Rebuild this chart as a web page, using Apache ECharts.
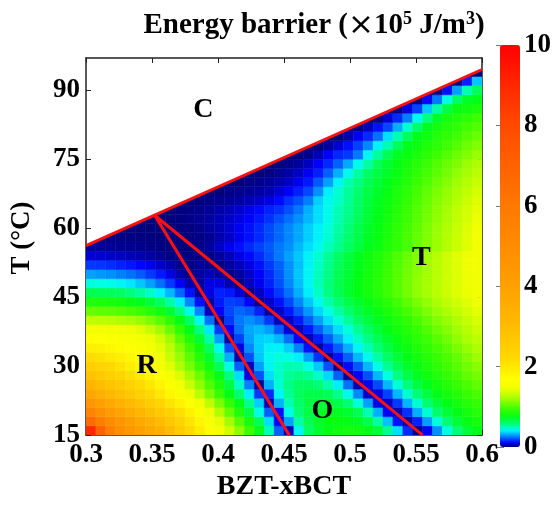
<!DOCTYPE html>
<html lang="en">
<head>
  <meta charset="UTF-8">
  <title>Energy barrier</title>
  <script src="https://cdn.jsdelivr.net/npm/echarts@6/dist/echarts.min.js"></script>
</head>
<body style="margin:0">
<div id="chart" style="width:556px;height:506px"></div>

<script>
  const _ = null;
  // cell centres: composition x of BZT-xBCT and temperature T (deg C)
  const xCenters = [0.30375, 0.31125, 0.31875, 0.32625, 0.33375, 0.34125, 0.34875, 0.35625, 0.36375, 0.37125,
                    0.37875, 0.38625, 0.39375, 0.40125, 0.40875, 0.41625, 0.42375, 0.43125, 0.43875, 0.44625,
                    0.45375, 0.46125, 0.46875, 0.47625, 0.48375, 0.49125, 0.49875, 0.50625, 0.51375, 0.52125,
                    0.52875, 0.53625, 0.54375, 0.55125, 0.55875, 0.56625, 0.57375, 0.58125, 0.58875, 0.59625];
  const tCenters = [16, 18, 20, 22, 24, 26, 28, 30, 32, 34, 36, 38, 40, 42, 44, 46, 48, 50, 52, 54,
                    56, 58, 60, 62, 64, 66, 68, 70, 72, 74, 76, 78, 80, 82, 84, 86, 88, 90, 92, 94];

  // energy barrier (x10^5 J/m3), one row per temperature, bottom row first; null = cubic phase
  const barrier = [
    [9.0, 7.0, 5.6, 4.9, 4.4, 4.0, 3.7, 3.45, 3.0, 2.55, 2.17, 1.95, 1.75, 1.55, 1.35, 1.15, 0.95, 0.77, 0.5, 0.22, 0.05, 0.42, 0.6, 0.7, 0.76, 0.8, 0.81, 0.8, 0.76, 0.68, 0.55, 0.38, 0.15, 0.01, 0.1, 0.28, 0.45, 0.58, 0.68, 0.75],
    [6.6, 5.7, 5.0, 4.5, 4.05, 3.7, 3.4, 3.05, 2.7, 2.35, 2.05, 1.83, 1.62, 1.42, 1.22, 1.02, 0.83, 0.62, 0.38, 0.1, 0.3, 0.52, 0.64, 0.71, 0.76, 0.77, 0.76, 0.72, 0.64, 0.52, 0.34, 0.12, 0.03, 0.14, 0.3, 0.46, 0.58, 0.68, 0.76, 0.82],
    [5.4, 4.8, 4.3, 3.9, 3.55, 3.2, 2.9, 2.6, 2.35, 2.1, 1.85, 1.65, 1.45, 1.25, 1.05, 0.85, 0.66, 0.45, 0.22, 0.12, 0.44, 0.58, 0.66, 0.71, 0.74, 0.73, 0.7, 0.63, 0.5, 0.32, 0.1, 0.05, 0.16, 0.32, 0.47, 0.59, 0.68, 0.75, 0.82, 0.87],
    [4.5, 4.05, 3.7, 3.4, 3.1, 2.8, 2.55, 2.3, 2.05, 1.85, 1.65, 1.47, 1.3, 1.1, 0.92, 0.74, 0.55, 0.36, 0.05, 0.32, 0.5, 0.6, 0.66, 0.69, 0.69, 0.65, 0.58, 0.46, 0.3, 0.08, 0.06, 0.17, 0.33, 0.47, 0.59, 0.68, 0.75, 0.81, 0.87, 0.92],
    [3.8, 3.45, 3.15, 2.9, 2.65, 2.42, 2.2, 2.0, 1.8, 1.62, 1.45, 1.28, 1.1, 0.93, 0.76, 0.58, 0.4, 0.17, 0.15, 0.42, 0.54, 0.61, 0.65, 0.65, 0.62, 0.55, 0.43, 0.27, 0.06, 0.08, 0.18, 0.33, 0.47, 0.58, 0.67, 0.75, 0.82, 0.87, 0.93, 0.98],
    [3.25, 3.0, 2.78, 2.57, 2.37, 2.18, 2.0, 1.82, 1.65, 1.5, 1.33, 1.16, 1.0, 0.84, 0.67, 0.48, 0.26, 0.02, 0.32, 0.47, 0.56, 0.6, 0.61, 0.58, 0.51, 0.4, 0.24, 0.04, 0.09, 0.19, 0.33, 0.46, 0.57, 0.66, 0.74, 0.81, 0.87, 0.93, 0.98, 1.04],
    [2.8, 2.63, 2.47, 2.3, 2.13, 1.97, 1.82, 1.67, 1.53, 1.38, 1.22, 1.07, 0.9, 0.74, 0.57, 0.38, 0.08, 0.2, 0.38, 0.48, 0.54, 0.56, 0.54, 0.48, 0.37, 0.22, 0.02, 0.1, 0.2, 0.33, 0.45, 0.56, 0.65, 0.73, 0.8, 0.86, 0.92, 0.98, 1.04, 1.09],
    [2.45, 2.33, 2.2, 2.06, 1.93, 1.8, 1.67, 1.54, 1.4, 1.25, 1.1, 0.95, 0.8, 0.62, 0.45, 0.22, 0.05, 0.3, 0.42, 0.48, 0.51, 0.5, 0.45, 0.35, 0.2, 0.01, 0.11, 0.21, 0.33, 0.44, 0.54, 0.63, 0.71, 0.78, 0.84, 0.9, 0.96, 1.02, 1.08, 1.14],
    [2.15, 2.08, 1.99, 1.9, 1.8, 1.7, 1.59, 1.47, 1.33, 1.18, 1.03, 0.87, 0.7, 0.52, 0.32, 0.04, 0.2, 0.35, 0.43, 0.46, 0.45, 0.4, 0.3, 0.16, 0.02, 0.12, 0.22, 0.33, 0.43, 0.52, 0.6, 0.68, 0.75, 0.81, 0.87, 0.93, 0.99, 1.05, 1.12, 1.19],
    [1.9, 1.86, 1.8, 1.74, 1.67, 1.6, 1.52, 1.42, 1.28, 1.12, 0.96, 0.8, 0.62, 0.43, 0.2, 0.08, 0.27, 0.36, 0.41, 0.41, 0.36, 0.26, 0.12, 0.03, 0.13, 0.22, 0.32, 0.42, 0.5, 0.58, 0.66, 0.73, 0.79, 0.85, 0.91, 0.97, 1.03, 1.1, 1.17, 1.24],
    [1.7, 1.68, 1.65, 1.61, 1.57, 1.52, 1.45, 1.35, 1.2, 1.03, 0.86, 0.69, 0.51, 0.3, 0.03, 0.18, 0.3, 0.36, 0.37, 0.33, 0.24, 0.1, 0.04, 0.13, 0.22, 0.31, 0.4, 0.48, 0.56, 0.63, 0.7, 0.77, 0.83, 0.89, 0.95, 1.02, 1.09, 1.16, 1.23, 1.29],
    [1.52, 1.51, 1.5, 1.48, 1.45, 1.4, 1.32, 1.2, 1.06, 0.9, 0.74, 0.57, 0.39, 0.17, 0.1, 0.24, 0.31, 0.33, 0.3, 0.21, 0.07, 0.05, 0.13, 0.22, 0.3, 0.38, 0.46, 0.54, 0.61, 0.68, 0.75, 0.81, 0.87, 0.93, 1.0, 1.07, 1.13, 1.2, 1.27, 1.33],
    [1.3, 1.29, 1.28, 1.26, 1.23, 1.18, 1.11, 1.02, 0.9, 0.76, 0.6, 0.44, 0.24, 0.01, 0.17, 0.25, 0.28, 0.25, 0.17, 0.05, 0.06, 0.13, 0.22, 0.3, 0.38, 0.46, 0.53, 0.6, 0.67, 0.73, 0.79, 0.85, 0.91, 0.98, 1.05, 1.12, 1.18, 1.25, 1.31, 1.37],
    [1.05, 1.04, 1.03, 1.01, 0.98, 0.94, 0.88, 0.8, 0.7, 0.57, 0.43, 0.27, 0.05, 0.1, 0.19, 0.23, 0.21, 0.14, 0.03, 0.06, 0.13, 0.21, 0.29, 0.37, 0.45, 0.52, 0.59, 0.66, 0.72, 0.78, 0.84, 0.9, 0.97, 1.04, 1.11, 1.18, 1.24, 1.3, 1.36, 1.41],
    [0.85, 0.84, 0.83, 0.81, 0.78, 0.74, 0.68, 0.61, 0.52, 0.4, 0.27, 0.12, 0.03, 0.13, 0.18, 0.17, 0.1, 0.01, 0.06, 0.12, 0.19, 0.27, 0.35, 0.43, 0.51, 0.58, 0.65, 0.71, 0.77, 0.83, 0.89, 0.96, 1.03, 1.1, 1.17, 1.23, 1.29, 1.35, 1.4, 1.44],
    [0.64, 0.63, 0.62, 0.6, 0.57, 0.53, 0.48, 0.41, 0.33, 0.23, 0.12, 0.02, 0.08, 0.14, 0.13, 0.07, 0.01, 0.06, 0.11, 0.17, 0.24, 0.32, 0.4, 0.48, 0.56, 0.63, 0.7, 0.76, 0.82, 0.88, 0.95, 1.02, 1.09, 1.16, 1.22, 1.28, 1.34, 1.39, 1.43, 1.46],
    [0.46, 0.45, 0.44, 0.42, 0.39, 0.35, 0.3, 0.24, 0.17, 0.1, 0.04, 0.03, 0.08, 0.08, 0.04, 0.01, 0.05, 0.09, 0.14, 0.2, 0.27, 0.34, 0.42, 0.5, 0.57, 0.64, 0.7, 0.76, 0.82, 0.88, 0.95, 1.02, 1.09, 1.16, 1.22, 1.28, 1.34, 1.39, 1.44, 1.48],
    [0.3, 0.29, 0.28, 0.26, 0.24, 0.21, 0.17, 0.13, 0.08, 0.04, 0.01, 0.03, 0.05, 0.03, 0.01, 0.03, 0.06, 0.1, 0.15, 0.21, 0.28, 0.35, 0.42, 0.49, 0.56, 0.63, 0.69, 0.75, 0.81, 0.87, 0.94, 1.01, 1.08, 1.15, 1.22, 1.28, 1.34, 1.39, 1.44, 1.49],
    [0.17, 0.165, 0.155, 0.14, 0.125, 0.105, 0.085, 0.06, 0.04, 0.015, 0.01, 0.025, 0.015, 0.01, 0.03, 0.05, 0.08, 0.12, 0.17, 0.22, 0.28, 0.34, 0.41, 0.48, 0.55, 0.62, 0.68, 0.74, 0.8, 0.86, 0.93, 1.0, 1.07, 1.14, 1.21, 1.28, 1.34, 1.39, 1.45, 1.5],
    [0.07, 0.068, 0.063, 0.057, 0.05, 0.042, 0.033, 0.022, 0.01, 0.005, 0.01, 0.008, 0.01, 0.03, 0.05, 0.08, 0.11, 0.15, 0.2, 0.25, 0.3, 0.35, 0.41, 0.47, 0.54, 0.6, 0.67, 0.73, 0.79, 0.85, 0.92, 0.99, 1.06, 1.13, 1.2, 1.27, 1.34, 1.4, 1.45, 1.5],
    [0.025, 0.025, 0.024, 0.022, 0.02, 0.017, 0.013, 0.009, 0.004, 0.004, 0.004, 0.01, 0.03, 0.06, 0.09, 0.12, 0.15, 0.18, 0.21, 0.25, 0.28, 0.33, 0.38, 0.43, 0.49, 0.55, 0.61, 0.67, 0.73, 0.79, 0.85, 0.91, 0.98, 1.05, 1.12, 1.19, 1.26, 1.33, 1.4, 1.48],
    [0.008, 0.01, 0.01, 0.01, 0.009, 0.007, 0.005, 0.003, 0.002, 0.002, 0.005, 0.01, 0.02, 0.04, 0.06, 0.09, 0.12, 0.15, 0.19, 0.23, 0.27, 0.31, 0.36, 0.41, 0.47, 0.53, 0.59, 0.65, 0.72, 0.78, 0.84, 0.91, 0.98, 1.05, 1.12, 1.19, 1.26, 1.33, 1.4, 1.47],
    [_, _, 0.003, 0.004, 0.004, 0.003, 0.002, 0.001, 0.001, 0.003, 0.008, 0.015, 0.03, 0.045, 0.065, 0.09, 0.12, 0.15, 0.19, 0.23, 0.27, 0.31, 0.36, 0.41, 0.46, 0.52, 0.58, 0.64, 0.71, 0.77, 0.83, 0.9, 0.97, 1.04, 1.11, 1.18, 1.25, 1.32, 1.39, 1.46],
    [_, _, _, _, _, 0.001, 0.001, 0.001, 0.003, 0.006, 0.012, 0.02, 0.03, 0.045, 0.06, 0.08, 0.1, 0.13, 0.16, 0.2, 0.24, 0.28, 0.33, 0.38, 0.44, 0.5, 0.56, 0.62, 0.69, 0.75, 0.81, 0.88, 0.95, 1.02, 1.09, 1.16, 1.23, 1.3, 1.37, 1.44],
    [_, _, _, _, _, _, _, 0.0, 0.002, 0.005, 0.01, 0.016, 0.025, 0.035, 0.05, 0.065, 0.085, 0.11, 0.14, 0.16, 0.2, 0.25, 0.32, 0.38, 0.44, 0.5, 0.55, 0.61, 0.68, 0.74, 0.8, 0.87, 0.94, 1.01, 1.08, 1.15, 1.22, 1.29, 1.36, 1.42],
    [_, _, _, _, _, _, _, _, _, 0.0, 0.002, 0.005, 0.01, 0.016, 0.024, 0.034, 0.046, 0.06, 0.08, 0.11, 0.16, 0.2, 0.26, 0.36, 0.43, 0.48, 0.54, 0.6, 0.67, 0.73, 0.79, 0.85, 0.92, 0.99, 1.06, 1.13, 1.19, 1.26, 1.33, 1.39],
    [_, _, _, _, _, _, _, _, _, _, _, 0.0, 0.001, 0.004, 0.009, 0.015, 0.022, 0.032, 0.045, 0.07, 0.1, 0.14, 0.19, 0.28, 0.4, 0.47, 0.53, 0.59, 0.655, 0.71, 0.77, 0.84, 0.9, 0.97, 1.04, 1.1, 1.17, 1.23, 1.3, 1.36],
    [_, _, _, _, _, _, _, _, _, _, _, _, _, 0.0, 0.001, 0.004, 0.009, 0.016, 0.025, 0.04, 0.06, 0.09, 0.13, 0.21, 0.3, 0.42, 0.51, 0.57, 0.63, 0.69, 0.745, 0.81, 0.87, 0.94, 1.0, 1.07, 1.13, 1.2, 1.26, 1.32],
    [_, _, _, _, _, _, _, _, _, _, _, _, _, _, _, 0.0, 0.001, 0.003, 0.008, 0.02, 0.035, 0.06, 0.09, 0.14, 0.22, 0.32, 0.43, 0.52, 0.6, 0.66, 0.72, 0.78, 0.845, 0.91, 0.97, 1.03, 1.09, 1.16, 1.22, 1.28],
    [_, _, _, _, _, _, _, _, _, _, _, _, _, _, _, _, _, 0.0, 0.0, 0.005, 0.015, 0.03, 0.055, 0.1, 0.15, 0.22, 0.31, 0.43, 0.52, 0.63, 0.7, 0.76, 0.82, 0.88, 0.94, 1.0, 1.06, 1.12, 1.18, 1.24],
    [_, _, _, _, _, _, _, _, _, _, _, _, _, _, _, _, _, _, _, 0.0, 0.0, 0.005, 0.02, 0.05, 0.1, 0.15, 0.17, 0.25, 0.42, 0.53, 0.63, 0.72, 0.78, 0.84, 0.89, 0.95, 1.01, 1.07, 1.12, 1.18],
    [_, _, _, _, _, _, _, _, _, _, _, _, _, _, _, _, _, _, _, _, _, 0.0, 0.0, 0.005, 0.03, 0.07, 0.12, 0.18, 0.27, 0.41, 0.51, 0.62, 0.73, 0.79, 0.85, 0.9, 0.96, 1.01, 1.07, 1.12],
    [_, _, _, _, _, _, _, _, _, _, _, _, _, _, _, _, _, _, _, _, _, _, _, 0.0, 0.0, 0.005, 0.04, 0.09, 0.15, 0.24, 0.38, 0.5, 0.62, 0.74, 0.8, 0.86, 0.91, 0.96, 1.01, 1.06],
    [_, _, _, _, _, _, _, _, _, _, _, _, _, _, _, _, _, _, _, _, _, _, _, _, _, 0.0, 0.0, 0.01, 0.05, 0.12, 0.19, 0.32, 0.47, 0.6, 0.74, 0.81, 0.86, 0.91, 0.96, 1.0],
    [_, _, _, _, _, _, _, _, _, _, _, _, _, _, _, _, _, _, _, _, _, _, _, _, _, _, _, 0.0, 0.0, 0.01, 0.07, 0.15, 0.26, 0.43, 0.57, 0.71, 0.82, 0.86, 0.9, 0.95],
    [_, _, _, _, _, _, _, _, _, _, _, _, _, _, _, _, _, _, _, _, _, _, _, _, _, _, _, _, _, _, 0.0, 0.01, 0.08, 0.18, 0.35, 0.52, 0.66, 0.78, 0.8, 0.84],
    [_, _, _, _, _, _, _, _, _, _, _, _, _, _, _, _, _, _, _, _, _, _, _, _, _, _, _, _, _, _, _, _, 0.0, 0.005, 0.11, 0.25, 0.45, 0.6, 0.71, 0.75],
    [_, _, _, _, _, _, _, _, _, _, _, _, _, _, _, _, _, _, _, _, _, _, _, _, _, _, _, _, _, _, _, _, _, _, 0.0, 0.005, 0.12, 0.3, 0.5, 0.62],
    [_, _, _, _, _, _, _, _, _, _, _, _, _, _, _, _, _, _, _, _, _, _, _, _, _, _, _, _, _, _, _, _, _, _, _, _, 0.0, 0.003, 0.14, 0.35],
    [_, _, _, _, _, _, _, _, _, _, _, _, _, _, _, _, _, _, _, _, _, _, _, _, _, _, _, _, _, _, _, _, _, _, _, _, _, _, 0.0, 0.002]
  ];

  // phase boundaries [x, T]
  const cBoundary = [[0.3, 56.2], [0.6, 94.5]];
  const roBoundary = [[0.352, 62.8], [0.454, 15]];
  const otBoundary = [[0.352, 62.8], [0.555, 15]];
  const phaseNames = ['C', 'T', 'R', 'O'];
  const phaseSpots = [[0.389, 85.8], [0.554, 53.6], [0.346, 30.0], [0.479, 20.2]];

  const xTicks = [0.3, 0.35, 0.4, 0.45, 0.5, 0.55, 0.6];
  const yTicks = [15, 30, 45, 60, 75, 90];
  const barTicks = [0, 2, 4, 6, 8, 10];

  // colour map (value -> colour), close to the figure's modified jet
  const colorStops = [
    [0, '#000078'], [0.03, '#000096'], [0.07, '#0000dc'], [0.1, '#0000ff'], [0.18, '#0040ff'],
    [0.27, '#0088ff'], [0.35, '#00c8ff'], [0.42, '#00ffff'], [0.5, '#00ffb4'], [0.6, '#00ff64'],
    [0.75, '#00ff14'], [0.95, '#3cff00'], [1.2, '#a0ff00'], [1.45, '#f0ff00'], [1.7, '#ffff00'],
    [2.2, '#ffd800'], [3, '#ffbc00'], [4, '#ffa000'], [5, '#ff8c00'], [6, '#ff7800'],
    [7, '#ff6200'], [8, '#ff4a00'], [9, '#ff2800'], [10, '#ff0000']
  ];
  function hexToRgb(h) {
    return [parseInt(h.slice(1, 3), 16), parseInt(h.slice(3, 5), 16), parseInt(h.slice(5, 7), 16)];
  }
  function colorAt(v) {
    for (let i = 1; i < colorStops.length; i++) {
      if (v <= colorStops[i][0]) {
        const a = colorStops[i - 1], b = colorStops[i];
        const f = (v - a[0]) / (b[0] - a[0]);
        const ca = hexToRgb(a[1]), cb = hexToRgb(b[1]);
        return 'rgb(' + ca.map((c, k) => Math.round(c + (cb[k] - c) * f)).join(',') + ')';
      }
    }
    return colorStops[colorStops.length - 1][1];
  }
  const palette = [];
  for (let i = 0; i <= 200; i++) palette.push(colorAt(i * 0.05));

  const heatData = [];
  barrier.forEach(function (row, i) {
    row.forEach(function (v, j) {
      if (v !== null) heatData.push([xCenters[j], tCenters[i], v]);
    });
  });
  const cellW = xCenters[1] - xCenters[0];
  const cellH = tCenters[1] - tCenters[0];

  function cLineT(x) {
    const a = cBoundary[0], b = cBoundary[1];
    return a[1] + (b[1] - a[1]) * (x - a[0]) / (b[0] - a[0]);
  }
  // keep the part of a cell that lies below the C phase boundary
  function clipBelowC(pts) {
    const out = [];
    for (let i = 0; i < pts.length; i++) {
      const p = pts[i], q = pts[(i + 1) % pts.length];
      const fp = cLineT(p[0]) - p[1], fq = cLineT(q[0]) - q[1];
      if (fp >= 0) out.push(p);
      if ((fp >= 0) !== (fq >= 0)) {
        const s = fp / (fp - fq);
        out.push([p[0] + (q[0] - p[0]) * s, p[1] + (q[1] - p[1]) * s]);
      }
    }
    return out;
  }

  const font = 'Liberation Serif';
  const tickFont = { fontFamily: font, fontWeight: 'bold', fontSize: 27, color: '#000' };
  const frameLine = { show: true, lineStyle: { color: '#222', width: 1.5 } };

  let chart = echarts.init(document.getElementById('chart'));
  let option = {
    animation: false,
    backgroundColor: '#fff',
    title: {
      text: 'Energy barrier ({x|\u00d7}10{s|5} J/m{s|3})',
      left: 309,
      top: 5,
      textAlign: 'center',
      textStyle: {
        fontFamily: font, fontWeight: 'bold', fontSize: 29, color: '#000',
        rich: {
          s: { fontFamily: font, fontWeight: 'bold', fontSize: 18, color: '#000', verticalAlign: 'top' },
          x: { fontFamily: 'DejaVu Sans', fontWeight: 'normal', fontSize: 31, color: '#000' }
        }
      }
    },
    graphic: [{
      type: 'text',
      x: 22,
      y: 238,
      rotation: Math.PI / 2,
      style: {
        text: 'T (\u00b0C)', fontFamily: font, fontWeight: 'bold', fontSize: 27, fill: '#000',
        align: 'center', verticalAlign: 'middle'
      }
    }],
    grid: [
      { left: 86, top: 58, width: 396, height: 388 },
      { left: 500, top: 45, width: 20, height: 402 }
    ],
    xAxis: [
      {
        gridIndex: 0, type: 'value', min: 0.3, max: 0.6, position: 'bottom',
        name: 'BZT-xBCT', nameLocation: 'middle', nameGap: 33,
        nameTextStyle: { fontFamily: font, fontWeight: 'bold', fontSize: 28, color: '#000' },
        axisLine: frameLine,
        axisTick: { inside: true, length: 5, customValues: xTicks, lineStyle: { color: '#222' } },
        axisLabel: Object.assign({ margin: 6, customValues: xTicks }, tickFont),
        splitLine: { show: false }
      },
      {
        gridIndex: 0, type: 'value', min: 0.3, max: 0.6, position: 'top',
        axisLine: frameLine,
        axisTick: { inside: true, length: 5, customValues: xTicks, lineStyle: { color: '#222' } },
        axisLabel: { show: false },
        splitLine: { show: false }
      },
      { gridIndex: 1, type: 'value', min: 0, max: 1, show: false }
    ],
    yAxis: [
      {
        gridIndex: 0, type: 'value', min: 15, max: 97, position: 'left',
        axisLine: frameLine,
        axisTick: { inside: true, length: 5, customValues: yTicks, lineStyle: { color: '#222' } },
        axisLabel: Object.assign({ margin: 6, customValues: yTicks }, tickFont),
        splitLine: { show: false }
      },
      {
        gridIndex: 0, type: 'value', min: 15, max: 97, position: 'right',
        axisLine: frameLine,
        axisTick: { inside: true, length: 5, customValues: yTicks, lineStyle: { color: '#222' } },
        axisLabel: { show: false },
        splitLine: { show: false }
      },
      {
        gridIndex: 1, type: 'value', min: 0, max: 10, position: 'right',
        axisLine: { show: false },
        axisTick: { inside: true, length: 4, customValues: barTicks, lineStyle: { color: '#777' } },
        axisLabel: Object.assign({ margin: 4, customValues: barTicks }, tickFont),
        splitLine: { show: false }
      },
      {
        gridIndex: 1, type: 'value', min: 0, max: 10, position: 'left',
        axisLine: { show: false },
        axisTick: { inside: true, length: 4, customValues: barTicks, lineStyle: { color: '#777' } },
        axisLabel: { show: false },
        splitLine: { show: false }
      }
    ],
    visualMap: {
      type: 'continuous',
      seriesIndex: 0,
      dimension: 2,
      min: 0,
      max: 10,
      calculable: false,
      hoverLink: false,
      orient: 'vertical',
      left: 500,
      top: 45,
      padding: 0,
      itemWidth: 20,
      itemHeight: 402,
      inRange: { color: palette }
    },
    series: [
      {
        type: 'custom',
        xAxisIndex: 0,
        yAxisIndex: 0,
        data: heatData,
        encode: { x: 0, y: 1 },
        clip: true,
        silent: true,
        renderItem: function (params, api) {
          const x = api.value(0), t = api.value(1);
          const xa = x - cellW / 2, xb = x + cellW / 2;
          const ta = t - cellH / 2, tb = t + cellH / 2;
          const cell = clipBelowC([[xa, ta], [xb, ta], [xb, tb], [xa, tb]]);
          if (cell.length < 3) return;
          const color = api.visual('color');
          return {
            type: 'polygon',
            shape: { points: cell.map(function (p) { return api.coord(p); }) },
            style: { fill: color, stroke: color, lineWidth: 0.5 }
          };
        }
      },
      {
        type: 'line', data: cBoundary, symbol: 'none', silent: true, z: 5,
        lineStyle: { color: '#ff1010', width: 3 }
      },
      {
        type: 'line', data: roBoundary, symbol: 'none', silent: true, z: 5,
        lineStyle: { color: '#ff1010', width: 3 }
      },
      {
        type: 'line', data: otBoundary, symbol: 'none', silent: true, z: 5,
        lineStyle: { color: '#ff1010', width: 3 }
      },
      {
        // phase names
        type: 'custom',
        xAxisIndex: 0,
        yAxisIndex: 0,
        silent: true,
        z: 6,
        data: phaseSpots,
        encode: { x: 0, y: 1 },
        renderItem: function (params, api) {
          const p = api.coord([api.value(0), api.value(1)]);
          return {
            type: 'text',
            x: p[0],
            y: p[1],
            style: {
              text: phaseNames[params.dataIndex],
              fill: '#000',
              font: 'bold 28px "Liberation Serif"',
              align: 'center',
              verticalAlign: 'middle',
              textAlign: 'center',
              textVerticalAlign: 'middle'
            }
          };
        }
      },
      { type: 'line', xAxisIndex: 2, yAxisIndex: 2, data: [] }
    ]
  };
  chart.setOption(option);
</script>
</body>
</html>
